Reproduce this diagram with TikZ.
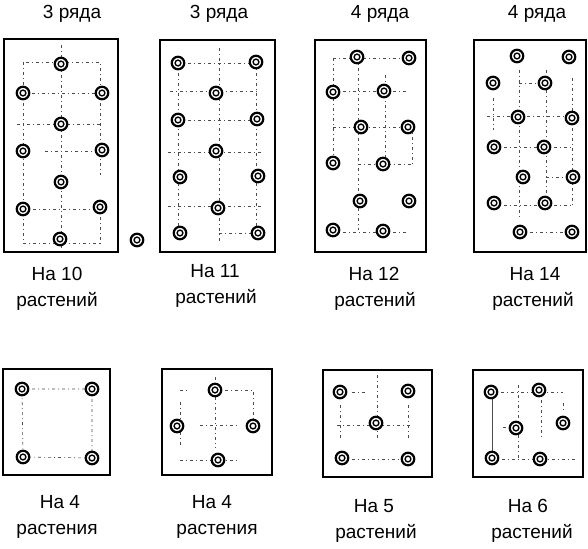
\documentclass[tikz,border=0pt]{standalone}
\usepackage{fontspec}
\setmainfont{Liberation Sans}
\begin{document}
\begin{tikzpicture}[x=1pt,y=-1pt,
  plant/.style={circle,draw,line width=2.2pt,fill=white,minimum size=12.5pt,inner sep=0pt,
    path picture={\draw[line width=1.4pt] (path picture bounding box.center) circle (2.9pt);}},
  bed/.style={draw,line width=1.7pt},
  guide/.style={line width=0.6pt,black!70,dash pattern=on 3pt off 3pt on 1pt off 3pt},
  lbl/.style={anchor=base,inner sep=0pt,font=\fontsize{19}{22}\selectfont}]
\useasboundingbox (0,0) rectangle (588,548);

% ---------- beds ----------
\draw[bed] (4,39) rectangle (118,252);
\draw[bed] (160,40) rectangle (275,252);
\draw[bed] (315,40) rectangle (426,252);
\draw[bed] (474,40) rectangle (586,252);
\draw[bed] (3,369) rectangle (110,475);
\draw[bed] (162,369) rectangle (272,475);
\draw[bed] (323,370) rectangle (432,477);
\draw[bed] (473,370) rectangle (583,477);

% ---------- guide lines ----------
% panel 1
\draw[guide] (61,45) -- (61,248);
\draw[guide] (23,62) rectangle (100,93);
\draw[guide] (17,124) -- (100,124);
\draw[guide] (45,151) -- (92,151);
\draw[guide] (23,93) -- (23,243) -- (100,243) -- (100,207);
\draw[guide] (100,93) -- (100,175);
\draw[guide] (23,209) -- (100,209);
% panel 2
\draw[guide] (219,48) -- (219,243);
\draw[guide] (178,63) -- (256,63);
\draw[guide] (178,63) -- (178,233);
\draw[guide] (256,63) -- (256,233);
\draw[guide] (170,91) -- (260,91);
\draw[guide] (178,120) -- (257,120);
\draw[guide] (168,152) -- (262,152);
\draw[guide] (168,206) -- (262,206);
\draw[guide] (219,233) -- (258,233);
% panel 3
\draw[guide] (333,58) -- (409,58);
\draw[guide] (358,58) -- (358,230);
\draw[guide] (333,58) -- (333,163);
\draw[guide] (333,91) -- (409,91);
\draw[guide] (385,75) -- (385,163);
\draw[guide] (333,127) -- (409,127);
\draw[guide] (412,127) -- (412,167);
\draw[guide] (358,164) -- (412,164);
\draw[guide] (333,232) -- (409,232);
% panel 4
\draw[guide] (519,70) -- (519,220);
\draw[guide] (546,70) -- (546,210);
\draw[guide] (572,78) -- (572,205);
\draw[guide] (493,98) -- (493,130);
\draw[guide] (519,83) -- (546,83);
\draw[guide] (487,116) -- (568,116);
\draw[guide] (494,147) -- (572,147);
\draw[guide] (546,177) -- (573,177);
\draw[guide] (494,205) -- (572,205);
\draw[guide] (520,232) -- (572,232);
% bottom 1
\draw[guide] (22,389) -- (92,389) -- (92,458) -- (23,457) -- cycle;
% bottom 2
\draw[guide] (215,377) -- (215,448);
\draw[guide] (215,390) -- (253,390) -- (253,426);
\draw[guide] (180,390) -- (190,390);
\draw[guide] (180,402) -- (180,447);
\draw[guide] (200,425) -- (240,425);
\draw[guide] (180,460) -- (240,460);
% bottom 3
\draw[guide] (377,375) -- (377,440);
\draw[guide] (352,392) -- (367,392);
\draw[guide] (337,425) -- (412,425);
\draw[guide] (340,405) -- (340,440);
\draw[guide] (408,405) -- (408,440);
\draw[guide] (342,459) -- (408,459);
% bottom 4
\draw[guide] (491,392) -- (563,392);
\draw[line width=0.6pt,black!70] (492,392) -- (492,458);
\draw[guide] (518,385) -- (518,458);
\draw[guide] (541,390) -- (541,438);
\draw[guide] (563,403) -- (563,412);
\draw[guide] (503,427) -- (516,427);
\draw[guide] (492,459) -- (575,459);

% ---------- plants ----------
\foreach \n/\x/\y in {1/61/64,2/23/93,3/102/93,4/61/124,5/23/151,6/102/150,
  7/61/182,8/23/209,9/100/207,10/60/239}
  \node[plant] (a\n) at (\x,\y) {};
\node[plant] (a11) at (137,240) {};
\foreach \n/\x/\y in {1/178/63,2/256/62,3/216/93,4/178/120,5/257/119,6/216/151,
  7/180/177,8/258/176,9/218/208,10/180/233,11/258/233}
  \node[plant] (b\n) at (\x,\y) {};
\foreach \n/\x/\y in {1/357/57,2/409/58,3/333/92,4/384/91,5/361/127,6/408/127,
  7/333/163,8/383/164,9/360/201,10/409/201,11/333/230,12/383/231}
  \node[plant] (c\n) at (\x,\y) {};
\foreach \n/\x/\y in {1/517/56,2/569/57,3/493/83,4/545/83,5/518/117,6/572/118,
  7/494/147,8/544/147,9/523/177,10/573/177,11/494/203,12/545/203,13/520/232,14/572/232}
  \node[plant] (d\n) at (\x,\y) {};
\foreach \n/\x/\y in {1/22/389,2/92/389,3/23/457,4/92/458}
  \node[plant] (e\n) at (\x,\y) {};
\foreach \n/\x/\y in {1/215/390,2/177/426,3/253/426,4/218/460}
  \node[plant] (f\n) at (\x,\y) {};
\foreach \n/\x/\y in {1/340/392,2/408/391,3/376/423,4/342/458,5/408/459}
  \node[plant] (g\n) at (\x,\y) {};
\foreach \n/\x/\y in {1/491/392,2/539/390,3/516/428,4/563/423,5/492/458,6/540/459}
  \node[plant] (h\n) at (\x,\y) {};

% ---------- labels ----------
\node[lbl] (t1) at (72,19) {3 ряда};
\node[lbl] (t2) at (219,19) {3 ряда};
\node[lbl] (t3) at (380,19) {4 ряда};
\node[lbl] (t4) at (537,19) {4 ряда};

\node[lbl] (l1a) at (57,280) {На 10};
\node[lbl] (l1b) at (57,306) {растений};
\node[lbl] (l2a) at (215,277) {На 11};
\node[lbl] (l2b) at (216,303) {растений};
\node[lbl] (l3a) at (374,280) {На 12};
\node[lbl] (l3b) at (375,306) {растений};
\node[lbl] (l4a) at (535,280) {На 14};
\node[lbl] (l4b) at (533,306) {растений};

\node[lbl] (l5a) at (60,508) {На 4};
\node[lbl] (l5b) at (57,534) {растения};
\node[lbl] (l6a) at (212,508) {На 4};
\node[lbl] (l6b) at (217,534) {растения};
\node[lbl] (l7a) at (374,512) {На 5};
\node[lbl] (l7b) at (376,538) {растений};
\node[lbl] (l8a) at (528,512) {На 6};
\node[lbl] (l8b) at (532,538) {растений};
\end{tikzpicture}
\end{document}
